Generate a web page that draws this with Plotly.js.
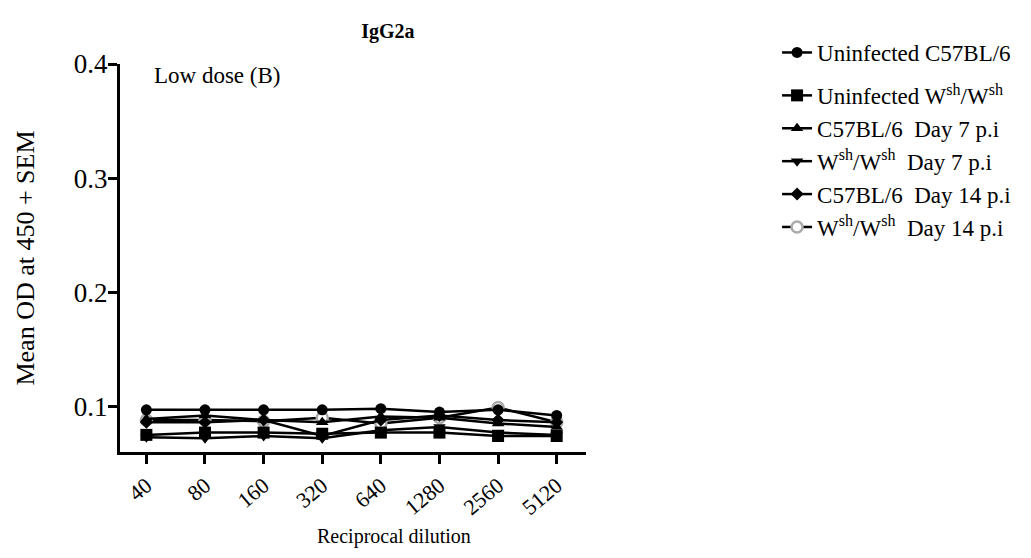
<!DOCTYPE html>
<html><head><meta charset="utf-8">
<script src="https://cdn.plot.ly/plotly-3.0.1.min.js"></script>
<style>html,body{margin:0;padding:0;background:#fff}#chart{width:1031px;height:558px}</style>
</head><body><div id="chart"></div>
<script>
const dilutions = ["40","80","160","320","640","1280","2560","5120"];
const seriesNames = [
  "Uninfected C57BL/6",
  "Uninfected W<sup>sh</sup>/W<sup>sh</sup>",
  "C57BL/6  Day 7 p.i",
  "W<sup>sh</sup>/W<sup>sh</sup>  Day 7 p.i",
  "C57BL/6  Day 14 p.i",
  "W<sup>sh</sup>/W<sup>sh</sup>  Day 14 p.i"
];
const uninfC57 = [0.097, 0.097, 0.097, 0.097, 0.098, 0.095, 0.097, 0.092];
const uninfWsh = [0.075, 0.077, 0.077, 0.076, 0.077, 0.077, 0.074, 0.074];
const c57Day7  = [0.089, 0.092, 0.088, 0.086, 0.091, 0.090, 0.085, 0.082];
const wshDay7  = [0.073, 0.072, 0.074, 0.072, 0.079, 0.082, 0.077, 0.075];
const c57Day14 = [0.086, 0.086, 0.088, 0.074, 0.088, 0.092, 0.088, 0.086];
const wshDay14 = [0.088, 0.088, 0.087, 0.090, 0.085, 0.090, 0.099, 0.086];

const allValues = [uninfC57, uninfWsh, c57Day7, wshDay7, c57Day14, wshDay14];
const symbols = ["circle","square","triangle-up","triangle-down","diamond","circle"];
const markerSizes = [11, 12, 11, 11, 10, 11];
const markerColors = ["#000","#000","#000","#000","#000","#fff"];
const markerLineColors = ["#000","#000","#000","#000","#000","#aaa"];
const markerLineWidths = [0,0,0,0,0,2.5];
const drawOrder = [5, 0, 1, 2, 3, 4];

const traces = drawOrder.map(i => ({
  x: dilutions.map((d, k) => k),
  y: allValues[i],
  name: seriesNames[i],
  legendrank: i + 1,
  legendgroup: i === 0 ? "first" : "rest",
  type: "scatter",
  mode: "lines+markers",
  line: {color: "#000", width: 2.5},
  marker: {symbol: symbols[i], size: markerSizes[i], color: markerColors[i],
           line: {color: markerLineColors[i], width: markerLineWidths[i]}}
}));

const font = "'Times New Roman', 'Liberation Serif', serif";
const layout = {
  width: 1031, height: 558,
  paper_bgcolor: "#fff", plot_bgcolor: "#fff",
  margin: {l: 120, r: 445, t: 64, b: 106},
  font: {family: font, color: "#000", size: 18},
  title: {text: "<b>IgG2a</b>", x: 0.575, xref: "paper", xanchor: "center", y: 0.945, yanchor: "middle",
          font: {family: font, size: 20, color: "#000"}},
  xaxis: {
    range: [-0.45, 7.5],
    tickvals: dilutions.map((d, k) => k),
    ticktext: dilutions,
    tickangle: -40,
    showgrid: false, zeroline: false,
    showline: true, linecolor: "#000", linewidth: 3,
    ticks: "outside", ticklen: 9, tickwidth: 3, tickcolor: "#000",
    tickfont: {family: font, size: 22, color: "#000"}
  },
  yaxis: {
    range: [0.06, 0.4],
    tickvals: [0.1, 0.2, 0.3, 0.4],
    ticktext: ["0.1", "0.2", "0.3", "0.4"],
    showgrid: false, zeroline: false,
    showline: true, linecolor: "#000", linewidth: 3,
    ticks: "outside", ticklen: 9, tickwidth: 3, tickcolor: "#000",
    ticklabelstandoff: -5,
    tickfont: {family: font, size: 27, color: "#000"},
    title: {text: "Mean OD at 450 + SEM", font: {family: font, size: 26, color: "#000"}, standoff: 32}
  },
  legend: {
    x: 1.41, xanchor: "left", y: 1.085, yanchor: "top",
    font: {family: font, size: 23, color: "#000"},
    bgcolor: "rgba(0,0,0,0)",
    tracegroupgap: 10,
    itemwidth: 30
  },
  annotations: [{
    text: "Low dose (B)", xref: "paper", yref: "paper", x: 0.068, y: 0.97,
    xanchor: "left", yanchor: "middle", showarrow: false,
    font: {family: font, size: 23, color: "#000"}
  }, {
    text: "Reciprocal dilution", xref: "paper", yref: "paper", x: 0.588, y: -0.219,
    xanchor: "center", yanchor: "middle", showarrow: false,
    font: {family: font, size: 20, color: "#000"}
  }],
  showlegend: true
};
Plotly.newPlot("chart", traces, layout, {displayModeBar: false, staticPlot: true});
</script></body></html>
